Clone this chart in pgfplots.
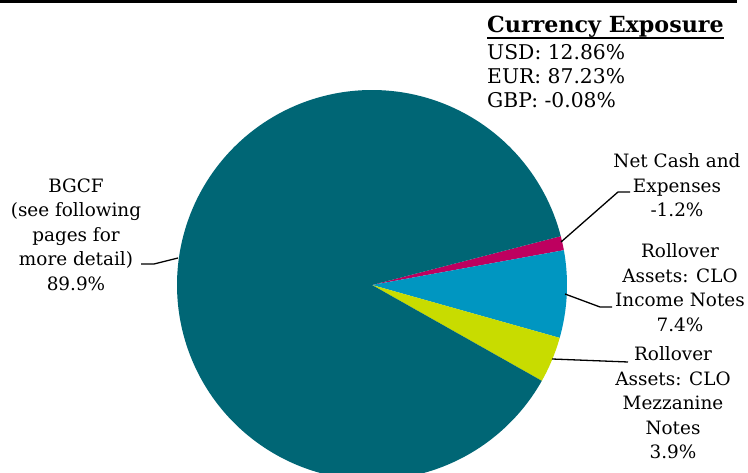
\documentclass[border=0pt]{standalone}
\usepackage{fontspec}
\setmainfont{DejaVu Serif}
\usepackage{pgfplots}
\pgfplotsset{compat=1.18}
\definecolor{cTeal}{RGB}{0,102,117}
\definecolor{cMag}{RGB}{190,0,95}
\definecolor{cBlue}{RGB}{0,150,193}
\definecolor{cLime}{RGB}{200,220,0}
\newcommand\ulbar[1]{\setbox0\hbox{#1}\rlap{\rule[-5.6pt]{\wd0}{1.9pt}}\box0}
% slice values (percent)
\def\vNet{1.2}
\def\vInc{7.4}
\def\vMez{3.9}
\def\vBGCF{89.9}
\pgfmathsetmacro{\tot}{\vNet+\vInc+\vMez+\vBGCF}
\pgfmathsetmacro{\aA}{14.5}
\pgfmathsetmacro{\aB}{\aA-\vNet/\tot*360}
\pgfmathsetmacro{\aC}{\aB-\vInc/\tot*360}
\pgfmathsetmacro{\aD}{\aC-\vMez/\tot*360}
\pgfmathsetmacro{\aE}{\aD-\vBGCF/\tot*360}
\def\cx{372}
\def\cy{188}
\def\R{195}
\begin{document}
\begin{tikzpicture}[every node/.style={font=\fontsize{18.4}{24.5}\selectfont}]
\begin{axis}[width=748pt,height=473pt,scale only axis,
  xmin=0,xmax=748,ymin=0,ymax=473,
  axis line style={draw=none},xtick=\empty,ytick=\empty,clip=true]
% pie slices
\addplot[fill=cMag,draw=none,domain=\aB:\aA,samples=20,variable=\t]
  ({\cx+\R*cos(\t)},{\cy+\R*sin(\t)}) -- (\cx,\cy) -- cycle;
\addplot[fill=cBlue,draw=none,domain=\aC:\aB,samples=40,variable=\t]
  ({\cx+\R*cos(\t)},{\cy+\R*sin(\t)}) -- (\cx,\cy) -- cycle;
\addplot[fill=cLime,draw=none,domain=\aD:\aC,samples=30,variable=\t]
  ({\cx+\R*cos(\t)},{\cy+\R*sin(\t)}) -- (\cx,\cy) -- cycle;
\addplot[fill=cTeal,draw=none,domain=\aE:\aD,samples=300,variable=\t]
  ({\cx+\R*cos(\t)},{\cy+\R*sin(\t)}) -- (\cx,\cy) -- cycle;
% top rule
\addplot[black,line width=3.5pt,no marks] coordinates {(0,471.3) (737,471.3)};
% leader lines
\addplot[black,line width=1.3pt,no marks] coordinates {(141,209) (154,209) (178,215)};
\addplot[black,line width=1.3pt,no marks] coordinates {(630,281) (618,281) (561,231)};
\addplot[black,line width=1.3pt,no marks] coordinates {(612,166) (600,166) (565,179)};
\addplot[black,line width=1.3pt,no marks] coordinates {(628,111) (552,114)};
% labels
\node[align=center,anchor=north] at (76,298) {BGCF\\(see following\\pages for\\more detail)\\89.9\%};
\node[align=center,anchor=north] at (677,323) {Net Cash and\\Expenses\\-1.2\%};
\node[align=center,anchor=north] at (680,233) {Rollover\\Assets: CLO\\Income Notes\\7.4\%};
\node[align=center,anchor=north] at (673,130) {Rollover\\Assets: CLO\\Mezzanine\\Notes\\3.9\%};
% currency exposure box
\node[anchor=base west,inner sep=0pt,font=\fontsize{22.2}{26}\selectfont\bfseries] at (487,440) {\ulbar{Currency Exposure}};
\node[anchor=base west,inner sep=0pt,font=\fontsize{20.3}{24}\selectfont] at (487,413) {USD: 12.86\%};
\node[anchor=base west,inner sep=0pt,font=\fontsize{20.3}{24}\selectfont] at (487,389) {EUR: 87.23\%};
\node[anchor=base west,inner sep=0pt,font=\fontsize{20.3}{24}\selectfont] at (487,365) {GBP: -0.08\%};
\end{axis}
\end{tikzpicture}
\end{document}
